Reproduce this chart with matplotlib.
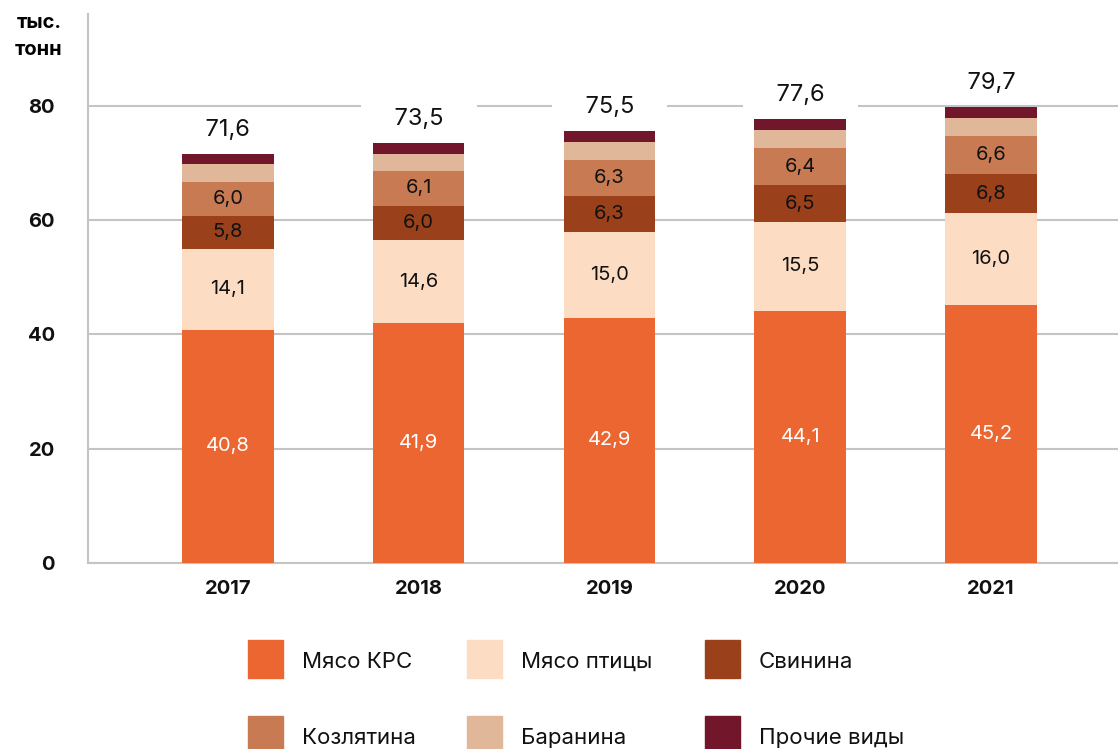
import numpy as np
import matplotlib
matplotlib.use("Agg")
import matplotlib.pyplot as plt
from matplotlib.patches import Rectangle
from matplotlib import font_manager as fm

# data
years = ["2017", "2018", "2019", "2020", "2021"]
krs = [40.8, 41.9, 42.9, 44.1, 45.2]
poultry = [14.1, 14.6, 15.0, 15.5, 16.0]
pork = [5.8, 6.0, 6.3, 6.5, 6.8]
goat = [6.0, 6.1, 6.3, 6.4, 6.6]
mutton = [3.0, 3.0, 3.1, 3.2, 3.2]
other = [1.9, 1.9, 1.9, 1.9, 1.9]
totals = [71.6, 73.5, 75.5, 77.6, 79.7]

series_names = ["Мясо КРС", "Мясо птицы", "Свинина", "Козлятина", "Баранина", "Прочие виды"]
colors = ["#EC6632", "#FCDCC3", "#9A401A", "#C87B52", "#E1B79A", "#72172B"]
label_colors = ["white", "#111111", "#111111", "#111111", None, None]

# pick Montserrat files by weight if they exist, otherwise Inter
mont = {f.weight: f.fname for f in fm.fontManager.ttflist
        if f.name == "Montserrat" and f.style == "normal"}
if 400 in mont and 700 in mont:
    font_reg = fm.FontProperties(fname=mont[400])
    font_bold = fm.FontProperties(fname=mont[700])
else:
    font_reg = fm.FontProperties(family="Inter", weight="normal")
    font_bold = fm.FontProperties(family="Inter", weight="bold")

fig = plt.figure(figsize=(11.18, 7.49), dpi=100)
ax = fig.add_axes([0.0787, 0.2483, 0.9213, 0.733])

x = np.arange(len(years))
width = 0.48
bottom = np.zeros(len(years))
all_series = [krs, poultry, pork, goat, mutton, other]
for vals, col, lc in zip(all_series, colors, label_colors):
    vals = np.array(vals)
    ax.bar(x, vals, width, bottom=bottom, color=col, zorder=3)
    if lc is not None:
        for xi, b, v in zip(x, bottom, vals):
            ax.text(xi, b + v / 2, f"{v:.1f}".replace(".", ","), ha="center", va="center",
                    color=lc, fontproperties=font_reg, fontsize=14.5, zorder=4)
    bottom += vals

# totals above bars, white box cuts the grid line
for xi, t in zip(x, totals):
    ax.text(xi, t + 4.2, "    " + f"{t:.1f}".replace(".", ",") + "    ", ha="center", va="center",
            fontproperties=font_reg, fontsize=17, color="#111111", zorder=4,
            bbox=dict(facecolor="white", edgecolor="none", pad=5))

ax.set_xlim(-0.733, 4.665)
ax.set_ylim(0, 96)
ax.set_yticks([0, 20, 40, 60, 80])
ax.set_xticks(x)
ax.set_xticklabels(years)
ax.tick_params(length=0, colors="#111111")
ax.tick_params(axis="x", pad=12)
ax.tick_params(axis="y", pad=24)
for lbl in ax.get_xticklabels() + ax.get_yticklabels():
    lbl.set_fontproperties(font_bold)
    lbl.set_fontsize(14.5)
ax.yaxis.grid(True, color="#c4c4c4", linewidth=1.5, zorder=0)
ax.set_axisbelow(True)
for s in ["top", "right"]:
    ax.spines[s].set_visible(False)
for s in ["left", "bottom"]:
    ax.spines[s].set_color("#c4c4c4")
    ax.spines[s].set_linewidth(1.5)

fig.text(62 / 1118, 1 - 23 / 749, "тыс.", ha="right", va="center", fontproperties=font_bold, fontsize=14.5)
fig.text(62 / 1118, 1 - 50 / 749, "тонн", ha="right", va="center", fontproperties=font_bold, fontsize=14.5)

# legend
W, H = 1118, 749
col_x = [248, 467, 705]
row_y = [640, 716]
for i, (name, col) in enumerate(zip(series_names, colors)):
    cx = col_x[i % 3]
    ry = row_y[i // 3]
    fig.patches.append(Rectangle((cx / W, 1 - (ry + 38) / H), 35 / W, 38 / H,
                                 transform=fig.transFigure, color=col))
    fig.text((cx + 54) / W, 1 - (ry + 22) / H, name, ha="left", va="center",
             fontproperties=font_reg, fontsize=16, color="#111111")

fig.savefig("out.png", dpi=100)
